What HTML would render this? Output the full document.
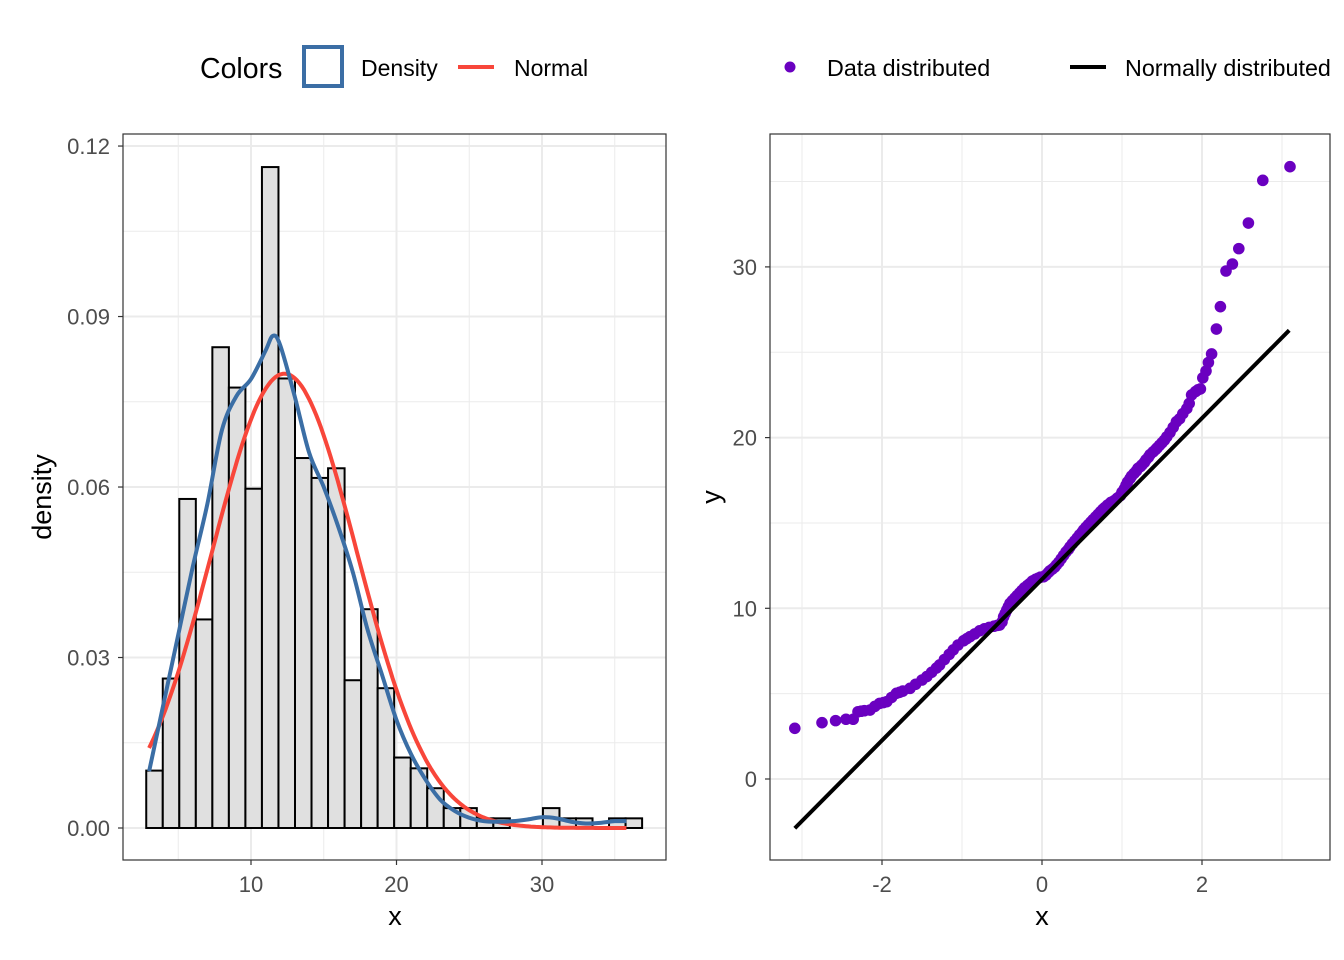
<!DOCTYPE html>
<html><head><meta charset="utf-8"><style>
html,body{margin:0;padding:0;background:#fff;}
svg{display:block;font-family:"Liberation Sans",Arial,sans-serif;}
</style></head><body>
<svg id="chart" width="1344" height="960" viewBox="0 0 1344 960">
<g>
<text x="200" y="78" font-size="28.5" fill="#000">Colors</text>
<rect x="304" y="47" width="38" height="39" fill="#fff" stroke="#3b6ea5" stroke-width="4"/>
<text x="361" y="76" font-size="23" fill="#000">Density</text>
<line x1="458" y1="67" x2="494" y2="67" stroke="#f8463a" stroke-width="4"/>
<text x="514" y="76" font-size="23" fill="#000">Normal</text>
</g>
<g>
<circle cx="790" cy="67" r="5.5" fill="#6a00c0"/>
<text x="827" y="76" font-size="23.3" fill="#000">Data distributed</text>
<line x1="1070" y1="67" x2="1106" y2="67" stroke="#000" stroke-width="4"/>
<text x="1125" y="76" font-size="23.3" fill="#000">Normally distributed</text>
</g>
<g id="left"></g>
<g id="right"></g>
</svg>
<script>
// ---- histogram data ----
const binStart = 2.8;
const binWidth = 1.136;
const binDensity = [0.0101,0.0263,0.0579,0.0367,0.0846,0.0775,0.0597,0.1163,0.0791,0.0651,0.0616,0.0633,0.026,0.0385,0.0246,0.0124,0.0105,0.007,0.0035,0.0035,0.0017,0.0017,0,0,0.0035,0.0017,0.0017,0,0.0017,0.0017];
const kdeX = [3,4,5,6,7,8,9,10,11,11.5,12,13,14,15,16,17,18,19,20,21,22,23,24,25,26,27,28,29,30,31,32,33,34,35,35.8];
const kdeY = [0.010,0.022,0.034,0.046,0.057,0.070,0.076,0.079,0.084,0.0866,0.085,0.076,0.066,0.060,0.053,0.045,0.035,0.027,0.019,0.013,0.0085,0.005,0.003,0.0018,0.0012,0.0011,0.0012,0.0015,0.0019,0.0017,0.0011,0.0008,0.0009,0.0012,0.0012];
const normMean = 12.3;
const normSd = 4.99;
const normRange = [3.0, 35.8];
const leftXTicks = [10,20,30];
const leftYTicks = [0,0.03,0.06,0.09,0.12];
const leftYTickLabels = ["0.00","0.03","0.06","0.09","0.12"];
// ---- QQ data ----
const qqX = [-3.09,-2.75,-2.58,-2.45,-2.36,-2.30,-2.26,-2.22,-2.15,-2.09,-2.03,-1.98,-1.94,-1.88,-1.82,-1.78,-1.74,-1.65,-1.58,-1.50,-1.44,-1.38,-1.32,-1.28,-1.22,-1.16,-1.11,-1.05,-0.98,-0.94,-0.9,-0.84,-0.78,-0.72,-0.66,-0.6,-0.56,-0.53,-0.5,-0.48,-0.46,-0.44,-0.42,-0.4,-0.37,-0.34,-0.31,-0.28,-0.25,-0.22,-0.18,-0.15,-0.12,-0.08,-0.05,-0.02,0.02,0.05,0.08,0.1,0.13,0.16,0.18,0.21,0.24,0.27,0.3,0.33,0.35,0.38,0.41,0.44,0.47,0.5,0.52,0.55,0.58,0.61,0.64,0.67,0.7,0.73,0.76,0.79,0.82,0.86,0.9,0.94,0.98,1.0,1.03,1.05,1.07,1.1,1.12,1.15,1.18,1.2,1.23,1.25,1.28,1.3,1.33,1.35,1.39,1.42,1.44,1.47,1.5,1.53,1.56,1.6,1.64,1.68,1.72,1.76,1.81,1.84,1.87,1.92,1.95,1.98,2.01,2.05,2.08,2.12,2.18,2.23,2.30,2.38,2.46,2.58,2.76,3.10];
const qqY = [2.97,3.3,3.42,3.5,3.5,3.94,3.97,4.0,4.04,4.25,4.43,4.48,4.53,4.78,5.02,5.08,5.15,5.31,5.55,5.8,6.0,6.25,6.5,6.68,7.0,7.3,7.56,7.85,8.1,8.22,8.34,8.5,8.68,8.8,8.88,8.95,9.0,9.02,9.2,9.5,9.7,9.9,10.1,10.29,10.45,10.6,10.75,10.9,11.05,11.2,11.35,11.46,11.6,11.7,11.76,11.82,11.85,11.95,12.1,12.2,12.3,12.42,12.54,12.7,12.9,13.1,13.3,13.45,13.6,13.78,13.95,14.12,14.3,14.45,14.59,14.75,14.9,15.05,15.2,15.35,15.5,15.65,15.8,15.92,16.05,16.2,16.3,16.45,16.6,16.8,17.0,17.2,17.4,17.6,17.75,17.9,18.05,18.2,18.3,18.4,18.55,18.7,18.85,19.0,19.17,19.3,19.4,19.55,19.7,19.85,20.05,20.3,20.6,20.93,21.1,21.4,21.7,22.0,22.5,22.7,22.8,22.85,23.5,23.9,24.4,24.9,26.36,27.67,29.76,30.17,31.07,32.57,35.07,35.87];
const refIntercept = 11.7;
const refSlope = 4.72;
const refRange = [-3.09, 3.09];
const rightXTicks = [-2,0,2];
const rightYTicks = [0,10,20,30];

const NS = "http://www.w3.org/2000/svg";
function mk(parent, tag, attrs){const e=document.createElementNS(NS,tag);for(const k in attrs)e.setAttribute(k,attrs[k]);parent.appendChild(e);return e;}
const TICK_FS = 22, TITLE_FS = 27;

// ---------- left panel ----------
const L = document.getElementById('left');
const lx = v => 251 + (v-10)*14.55;
const ly = v => 828 - v*5683;
const LP = {x0:123,x1:666,y0:134,y1:860};
let bg = mk(L,'rect',{x:LP.x0,y:LP.y0,width:LP.x1-LP.x0,height:LP.y1-LP.y0,fill:'#fff'});


[5,15,25,35].forEach(v=>{const g=mk(L,'line',{x1:lx(v),x2:lx(v),y1:LP.y0,y2:LP.y1,stroke:'#ebebeb','stroke-width':1});

});
[0.015,0.045,0.075,0.105].forEach(v=>{const g=mk(L,'line',{x1:LP.x0,x2:LP.x1,y1:ly(v),y2:ly(v),stroke:'#ebebeb','stroke-width':1});

});
leftXTicks.forEach(v=>{const g=mk(L,'line',{x1:lx(v),x2:lx(v),y1:LP.y0,y2:LP.y1,stroke:'#ebebeb','stroke-width':2});

});
leftYTicks.forEach(v=>{const g=mk(L,'line',{x1:LP.x0,x2:LP.x1,y1:ly(v),y2:ly(v),stroke:'#ebebeb','stroke-width':2});

});
binDensity.forEach((d,i)=>{
  const x0=lx(binStart+i*binWidth), x1=lx(binStart+(i+1)*binWidth);
  const r=mk(L,'rect',{x:x0,y:ly(d),width:x1-x0,height:ly(0)-ly(d),fill:'#e0e0e0',stroke:'#000','stroke-width':2});
  
  
});
let np=[];for(let i=0;i<=200;i++){const x=normRange[0]+(normRange[1]-normRange[0])*i/200;const d=Math.exp(-0.5*((x-normMean)/normSd)**2)/(normSd*Math.sqrt(2*Math.PI));np.push(lx(x).toFixed(1)+','+ly(d).toFixed(1));}
const nc=mk(L,'polyline',{points:np.join(' '),fill:'none',stroke:'#f8463a','stroke-width':4,'stroke-linejoin':'round'});


function smoothPath(pts){let d='M'+pts[0][0]+','+pts[0][1];for(let i=0;i<pts.length-1;i++){const p0=pts[Math.max(0,i-1)],p1=pts[i],p2=pts[i+1],p3=pts[Math.min(pts.length-1,i+2)];const c1=[p1[0]+(p2[0]-p0[0])/6,p1[1]+(p2[1]-p0[1])/6],c2=[p2[0]-(p3[0]-p1[0])/6,p2[1]-(p3[1]-p1[1])/6];d+=' C'+c1.join(',')+' '+c2.join(',')+' '+p2.join(',');}return d;}
const kp=kdeX.map((x,i)=>[lx(x),ly(kdeY[i])]);
const kc=mk(L,'path',{d:smoothPath(kp),fill:'none',stroke:'#3b6ea5','stroke-width':4,'stroke-linejoin':'round'});


const lb=mk(L,'rect',{x:LP.x0,y:LP.y0,width:LP.x1-LP.x0,height:LP.y1-LP.y0,fill:'none',stroke:'#333','stroke-width':1.2});


leftXTicks.forEach(v=>{mk(L,'line',{x1:lx(v),x2:lx(v),y1:LP.y1,y2:LP.y1+5,stroke:'#333','stroke-width':1.2});
const t=mk(L,'text',{x:lx(v),y:LP.y1+32,'font-size':TICK_FS,fill:'#4d4d4d','text-anchor':'middle'});t.textContent=v;

});
leftYTicks.forEach((v,i)=>{mk(L,'line',{x1:LP.x0-5,x2:LP.x0,y1:ly(v),y2:ly(v),stroke:'#333','stroke-width':1.2});
const t=mk(L,'text',{x:LP.x0-13,y:ly(v)+8,'font-size':TICK_FS,fill:'#4d4d4d','text-anchor':'end'});t.textContent=leftYTickLabels[i];

});
let t1=mk(L,'text',{x:395,y:925,'font-size':TITLE_FS,'text-anchor':'middle',fill:'#000'});t1.textContent='x';


let t2=mk(L,'text',{x:0,y:0,'font-size':TITLE_FS,'text-anchor':'middle',fill:'#000',transform:'translate(51,497) rotate(-90)'});t2.textContent='density';



// ---------- right panel ----------
const R = document.getElementById('right');
const rx = v => 1042 + v*80;
const ry = v => 779 - v*17.07;
const RP = {x0:770,x1:1330,y0:134,y1:860};
[-3,-1,1,3].forEach(v=>{const g=mk(R,'line',{x1:rx(v),x2:rx(v),y1:RP.y0,y2:RP.y1,stroke:'#ebebeb','stroke-width':1});

});
[5,15,25,35].forEach(v=>{const g=mk(R,'line',{x1:RP.x0,x2:RP.x1,y1:ry(v),y2:ry(v),stroke:'#ebebeb','stroke-width':1});

});
rightXTicks.forEach(v=>{const g=mk(R,'line',{x1:rx(v),x2:rx(v),y1:RP.y0,y2:RP.y1,stroke:'#ebebeb','stroke-width':2});

});
rightYTicks.forEach(v=>{const g=mk(R,'line',{x1:RP.x0,x2:RP.x1,y1:ry(v),y2:ry(v),stroke:'#ebebeb','stroke-width':2});

});
qqX.forEach((x,i)=>{const c=mk(R,'circle',{cx:rx(x),cy:ry(qqY[i]),r:5.8,fill:'#6a00c0'});

});
const rl=mk(R,'line',{x1:rx(refRange[0]),y1:ry(refIntercept+refSlope*refRange[0]),x2:rx(refRange[1]),y2:ry(refIntercept+refSlope*refRange[1]),stroke:'#000','stroke-width':4});


const rb=mk(R,'rect',{x:RP.x0,y:RP.y0,width:RP.x1-RP.x0,height:RP.y1-RP.y0,fill:'none',stroke:'#333','stroke-width':1.2});


rightXTicks.forEach(v=>{mk(R,'line',{x1:rx(v),x2:rx(v),y1:RP.y1,y2:RP.y1+5,stroke:'#333','stroke-width':1.2});
const t=mk(R,'text',{x:rx(v),y:RP.y1+32,'font-size':TICK_FS,fill:'#4d4d4d','text-anchor':'middle'});t.textContent=v;

});
rightYTicks.forEach(v=>{mk(R,'line',{x1:RP.x0-5,x2:RP.x0,y1:ry(v),y2:ry(v),stroke:'#333','stroke-width':1.2});
const t=mk(R,'text',{x:RP.x0-13,y:ry(v)+8,'font-size':TICK_FS,fill:'#4d4d4d','text-anchor':'end'});t.textContent=v;

});
let t3=mk(R,'text',{x:1042,y:925,'font-size':TITLE_FS,'text-anchor':'middle',fill:'#000'});t3.textContent='x';


let t4=mk(R,'text',{x:0,y:0,'font-size':TITLE_FS,'text-anchor':'middle',fill:'#000',transform:'translate(720,497) rotate(-90)'});t4.textContent='y';


</script>
</body></html>
